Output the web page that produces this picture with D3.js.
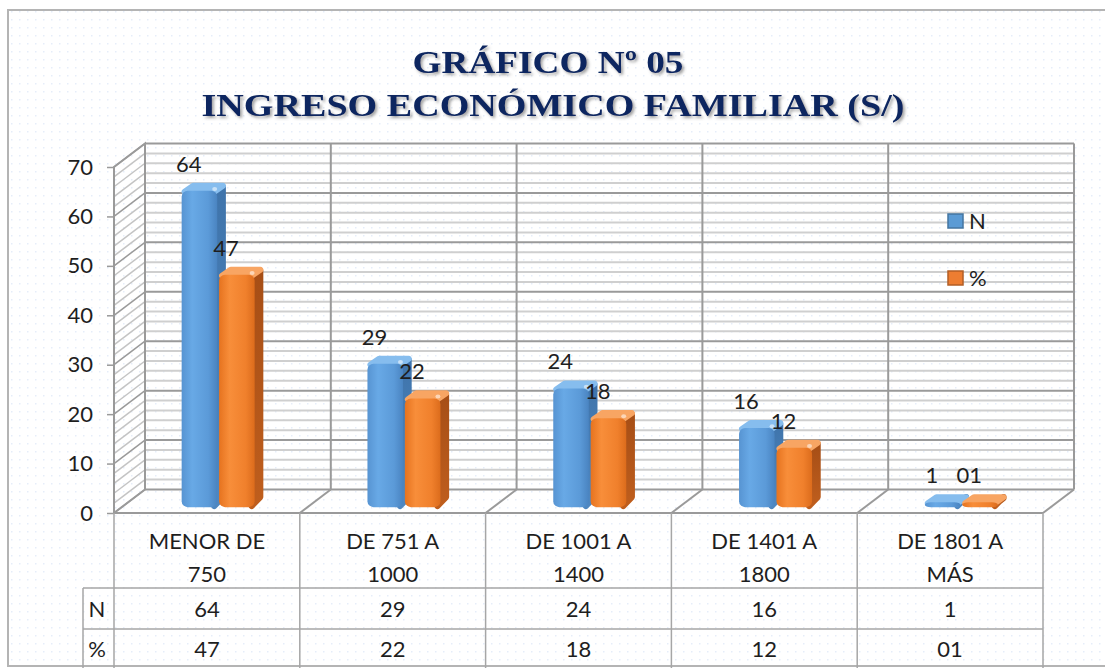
<!DOCTYPE html>
<html>
<head>
<meta charset="utf-8">
<script src="https://cdn.jsdelivr.net/npm/d3@7"></script>
<style>
  html, body { margin: 0; padding: 0; background: #fff; }
  svg { display: block; }
</style>
</head>
<body>
<div id="main"></div>
<script>
var categories = ['MENOR DE\n750', 'DE 751 A\n1000', 'DE 1001 A\n1400', 'DE 1401 A\n1800', 'DE 1801 A\nMÁS']
var series = ['N', '%']
var valuesN = [64, 29, 24, 16, 1]
var valuesPct = [47, 22, 18, 12, 1]
var labelsN = ['64', '29', '24', '16', '1']
var labelsPct = ['47', '22', '18', '12', '01']
var yTicks = [0, 10, 20, 30, 40, 50, 60, 70]

var width = 1105, height = 668
var depthX = 31, depthY = -23.5
var font = 'Lato, "Open Sans", sans-serif'
var fontSize = 22

var svg = d3.select('#main')
  .append('svg')
  .attr('width', width)
  .attr('height', height)

var defs = svg.append('defs')

var pat = defs.append('pattern')
  .attr('id', 'dots')
  .attr('width', 8).attr('height', 8)
  .attr('patternUnits', 'userSpaceOnUse')
pat.append('rect').attr('x', 3).attr('y', 3).attr('width', 1.5).attr('height', 1.5).attr('fill', '#e6edf9')

defs.append('filter').attr('id', 'shadow')
  .attr('x', '-10%').attr('y', '-20%').attr('width', '120%').attr('height', '150%')
  .append('feDropShadow')
    .attr('dx', 2).attr('dy', 2).attr('stdDeviation', 1.6)
    .attr('flood-color', '#555').attr('flood-opacity', 0.55)

function grad (id, stops, vertical) {
  var g = defs.append('linearGradient').attr('id', id)
    .attr('x1', 0).attr('y1', 0).attr('x2', vertical ? 0 : 1).attr('y2', vertical ? 1 : 0)
  stops.forEach(s => g.append('stop').attr('offset', s[0]).attr('stop-color', s[1]))
}
grad('blueFront', [[0, '#5794d2'], [0.3, '#68a9e6'], [0.75, '#5b9ad8'], [1, '#4a84c1']])
grad('blueSide', [[0, '#3f74ab'], [1, '#4f87c0']], true)
grad('orangeFront', [[0, '#e6731f'], [0.3, '#f88e3a'], [0.75, '#f0802c'], [1, '#dc6c1c']])
grad('orangeSide', [[0, '#a64e16'], [1, '#bf5e1d']], true)

var style = {
  'N': { front: 'url(#blueFront)', side: 'url(#blueSide)', top: '#86bdee', legend: '#5b9bd5' },
  '%': { front: 'url(#orangeFront)', side: 'url(#orangeSide)', top: '#f8a563', legend: '#ed7d31' }
}

// chart frame with dotted fill
svg.append('rect')
  .attr('x', 8).attr('y', 10).attr('width', 1110).attr('height', 656)
  .attr('fill', 'url(#dots)')
  .attr('stroke', '#b4b4b4').attr('stroke-width', 2)

var x = d3.scaleBand().domain(categories).range([114, 1043])
var x1 = d3.scaleBand().domain(series).range([-33, 40]).paddingInner(0.05)
var y = d3.scaleLinear().domain([0, 70]).range([513, 167])

var x0 = x.range()[0], xEnd = x.range()[1]
var yTop = y(70), yBase = y(0)
var grid = svg.append('g')

// back wall gridlines
var minor = d3.range(0, 71, 2)
grid.selectAll('line.h')
  .data(minor)
  .enter()
  .append('line')
    .attr('x1', x0 + depthX).attr('x2', xEnd + depthX)
    .attr('y1', d => y(d) + depthY).attr('y2', d => y(d) + depthY)
    .attr('stroke', d => d % 10 ? '#cfcfcf' : '#9a9a9a')
    .attr('stroke-width', 2)

// side wall hatch
grid.selectAll('line.s')
  .data(minor)
  .enter()
  .append('line')
    .attr('x1', x0).attr('x2', x0 + depthX)
    .attr('y1', d => y(d)).attr('y2', d => y(d) + depthY)
    .attr('stroke', d => d % 10 ? '#c4c4c4' : '#9a9a9a')
    .attr('stroke-width', 1.5)

// back wall verticals
var bounds = categories.map(c => x(c)).concat([xEnd])
grid.selectAll('line.v')
  .data(bounds)
  .enter()
  .append('line')
    .attr('x1', d => d + depthX).attr('x2', d => d + depthX)
    .attr('y1', yTop + depthY).attr('y2', yBase + depthY)
    .attr('stroke', '#9a9a9a').attr('stroke-width', 2)

// floor diagonals
grid.selectAll('line.f')
  .data(bounds)
  .enter()
  .append('line')
    .attr('x1', d => d).attr('x2', d => d + depthX)
    .attr('y1', yBase).attr('y2', yBase + depthY)
    .attr('stroke', '#9a9a9a').attr('stroke-width', 2)

// side wall edges
grid.append('path')
  .attr('d', `M${x0},${yBase}V${yTop}L${x0 + depthX},${yTop + depthY}V${yBase + depthY}`)
  .attr('fill', 'none').attr('stroke', '#9a9a9a').attr('stroke-width', 2)

// floor front edge
grid.append('line')
  .attr('x1', x0).attr('x2', xEnd).attr('y1', yBase).attr('y2', yBase)
  .attr('stroke', '#9a9a9a').attr('stroke-width', 2)

// y axis
var axis = svg.append('g')
  .attr('transform', `translate(${x0},0)`)
  .call(d3.axisLeft(y).tickValues(yTicks).tickSize(7).tickPadding(14))
axis.select('.domain').remove()
axis.selectAll('line').attr('stroke', '#9a9a9a').attr('stroke-width', 1.5)
axis.selectAll('text').attr('font-family', font).attr('font-size', fontSize).attr('fill', '#1e1e1e')

// bars
var rows = categories.map((c, i) => ({ cat: c, N: valuesN[i], '%': valuesPct[i], labN: labelsN[i], 'lab%': labelsPct[i] }))
var fx = depthX * 0.25, fy = depthY * 0.25
var sx = depthX * 0.28, sy = depthY * 0.3

var groups = svg.selectAll('g.cat')
  .data(rows)
  .enter()
  .append('g')
    .attr('transform', d => `translate(${x(d.cat) + x.bandwidth() / 2 + fx},${fy})`)

series.forEach(function (s) {
  var w = x1.bandwidth()
  var bar = groups.append('g')
  var left = x1(s)
  var top = d => y(d[s])
  bar.append('path')
    .attr('d', d => `M${left + w - 3},${top(d) + 3}L${left + w - 3 + sx},${top(d) + sy + 3}V${yBase + sy - 3}L${left + w - 3},${yBase - 1}Z`)
    .attr('fill', style[s].side)
    .attr('stroke', style[s].side).attr('stroke-width', 6).attr('stroke-linejoin', 'round')
  bar.append('path')
    .attr('d', d => `M${left + 3},${top(d) + 1}L${left + w - 3},${top(d) + 1}L${left + w - 3 + sx},${top(d) + sy + 2}L${left + 3 + sx},${top(d) + sy + 2}Z`)
    .attr('fill', style[s].top)
    .attr('stroke', style[s].top).attr('stroke-width', 6).attr('stroke-linejoin', 'round')
  bar.append('rect')
    .attr('x', left).attr('width', w)
    .attr('y', d => top(d)).attr('height', d => yBase - top(d))
    .attr('rx', 6)
    .attr('fill', style[s].front)
  bar.append('ellipse')
    .attr('cx', left + w - 6 + sx * 0.4).attr('cy', d => top(d) + sy * 0.4 + 1)
    .attr('rx', 2.5).attr('ry', 2)
    .attr('fill', '#fff').attr('opacity', d => d[s] > 3 ? 0.55 : 0)
  groups.append('text')
    .attr('x', left + w / 2 - 3 - fx)
    .attr('y', d => y(d[s]) - 25 - fy)
    .attr('text-anchor', 'middle')
    .attr('font-family', font).attr('font-size', fontSize).attr('fill', '#1e1e1e')
    .text(d => d['lab' + s])
})

// data table
var table = svg.append('g')
var rowY = [513, 588, 629, 668]
table.selectAll('line.tv')
  .data(bounds)
  .enter()
  .append('line')
    .attr('x1', d => d).attr('x2', d => d)
    .attr('y1', rowY[0]).attr('y2', rowY[3])
    .attr('stroke', '#a6a6a6').attr('stroke-width', 1.5)
table.append('line')
  .attr('x1', 83).attr('x2', 83).attr('y1', rowY[1]).attr('y2', rowY[3])
  .attr('stroke', '#a6a6a6').attr('stroke-width', 1.5)
table.selectAll('line.th')
  .data([rowY[1], rowY[2]])
  .enter()
  .append('line')
    .attr('x1', 83).attr('x2', xEnd)
    .attr('y1', d => d).attr('y2', d => d)
    .attr('stroke', '#a6a6a6').attr('stroke-width', 1.5)

var cells = table.selectAll('g.cell')
  .data(rows)
  .enter()
  .append('g')
    .attr('font-family', font).attr('font-size', fontSize).attr('fill', '#1e1e1e')
    .attr('text-anchor', 'middle')
cells.each(function (d) {
  var g = d3.select(this)
  var cx = x(d.cat) + x.bandwidth() / 2
  d.cat.split('\n').forEach((line, i) => {
    g.append('text').attr('x', cx).attr('y', 549 + i * 33).text(line)
  })
  g.append('text').attr('x', cx).attr('y', 617).text(d.labN)
  g.append('text').attr('x', cx).attr('y', 657).text(d['lab%'])
})
table.selectAll('text.rh')
  .data(series)
  .enter()
  .append('text')
    .attr('x', 97).attr('y', (d, i) => [617, 657][i])
    .attr('text-anchor', 'middle')
    .attr('font-family', font).attr('font-size', fontSize).attr('fill', '#1e1e1e')
    .text(d => d)

// legend
var legend = svg.selectAll('g.legend')
  .data(series)
  .enter()
  .append('g')
    .attr('transform', (d, i) => `translate(948,${214 + i * 57})`)
legend.append('rect')
  .attr('width', 15).attr('height', 14)
  .attr('fill', d => style[d].legend)
  .attr('stroke', d => d3.color(style[d].legend).darker(0.8)).attr('stroke-width', 1.5)
legend.append('text')
  .attr('x', 21).attr('y', 15)
  .attr('font-family', font).attr('font-size', fontSize).attr('fill', '#1e1e1e')
  .text(d => d)

// title
var title = svg.append('g')
  .attr('filter', 'url(#shadow)')
  .attr('font-family', '"Liberation Serif", "Times New Roman", serif')
  .attr('font-weight', 'bold').attr('font-size', 32).attr('fill', '#0b2761')
  .attr('text-anchor', 'middle')
title.append('text').attr('x', 548).attr('y', 73)
  .attr('textLength', 271).attr('lengthAdjust', 'spacingAndGlyphs').text('GRÁFICO Nº 05')
title.append('text').attr('x', 553).attr('y', 116)
  .attr('textLength', 703).attr('lengthAdjust', 'spacingAndGlyphs').text('INGRESO ECONÓMICO FAMILIAR (S/)')
</script>
</body>
</html>
